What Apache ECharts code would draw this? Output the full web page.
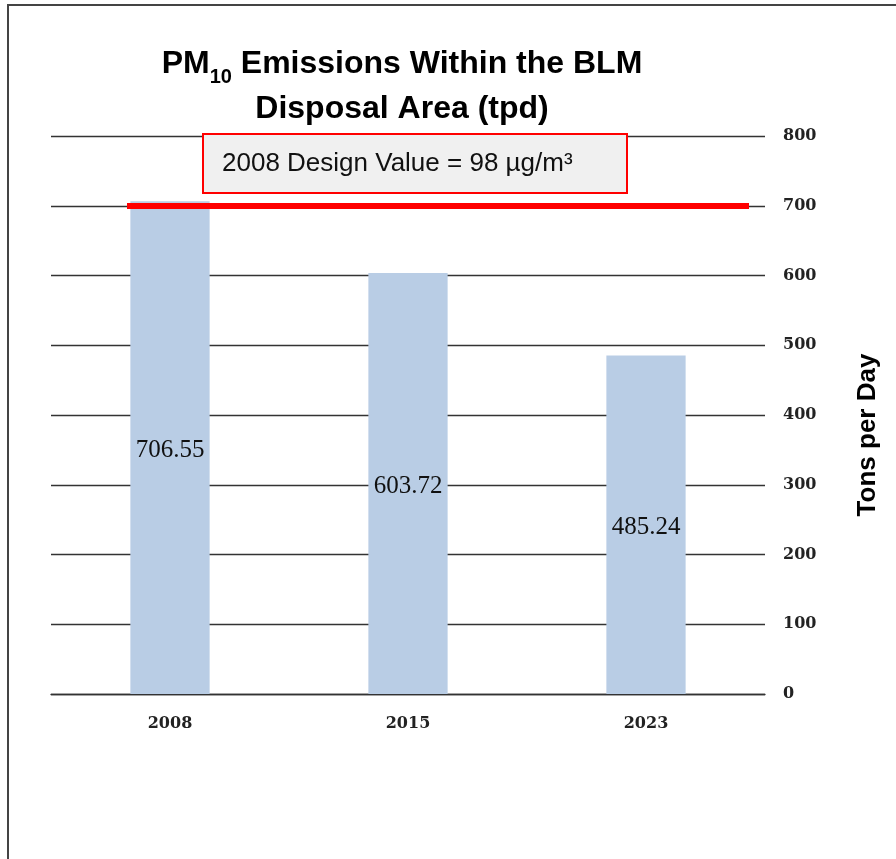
<!DOCTYPE html>
<html><head><meta charset="utf-8">
<script src="https://cdn.jsdelivr.net/npm/echarts@6/dist/echarts.min.js"></script>
<style>html,body{margin:0;padding:0;background:#fff}#c{width:896px;height:859px}</style>
</head><body><div id="c"></div>
<script>
const categories = ['2008', '2015', '2023'];
const emissions = [706.55, 603.72, 485.24];
const designLineValue = 700;
const yTicks = {min: 0, max: 800, interval: 100};
const annotationText = '2008 Design Value = 98 µg/m³';

const chart = echarts.init(document.getElementById('c'), null, {renderer: 'canvas'});
chart.setOption({
  backgroundColor: '#fff',
  animation: false,
  title: {
    text: 'PM{sub|10} Emissions Within the BLM\nDisposal Area (tpd)',
    left: 397, top: 37, textAlign: 'center',
    textStyle: {
      fontFamily: 'Liberation Sans', fontWeight: 'bold', fontSize: 32, color: '#000', lineHeight: 45,
      rich: {
        sub: {fontFamily: 'Liberation Sans', fontWeight: 'bold', fontSize: 20, color: '#000', verticalAlign: 'bottom', padding: [16, 0, 0, 0], lineHeight: 45}
      }
    }
  },
  grid: {left: 51, width: 714, top: 136, bottom: 165, containLabel: false},
  xAxis: {
    type: 'category', data: categories,
    axisLine: {show: true, lineStyle: {color: '#333', width: 1.3}},
    axisTick: {show: false},
    axisLabel: {fontFamily: 'DejaVu Serif', fontWeight: 'bold', fontSize: 16, color: '#222', margin: 22}
  },
  yAxis: {
    type: 'value', position: 'right', min: yTicks.min, max: yTicks.max, interval: yTicks.interval,
    axisLine: {show: false}, axisTick: {show: false},
    splitLine: {show: true, lineStyle: {color: '#333', width: 1.3}},
    axisLabel: {fontFamily: 'DejaVu Serif', fontWeight: 'bold', fontSize: 16, color: '#222', margin: 18, padding: [5, 0, 0, 0]},
    name: 'Tons per Day', nameLocation: 'middle', nameRotate: 90, nameGap: 90,
    nameTextStyle: {fontFamily: 'Liberation Sans', fontWeight: 'bold', fontSize: 26, color: '#000', padding: [0, 40, 0, 0]}
  },
  series: [{
    type: 'bar', data: emissions, barWidth: '33.3%',
    itemStyle: {color: '#b9cde5'},
    label: {show: true, position: 'inside', offset: [0, 3], fontFamily: 'Liberation Serif', fontSize: 25, color: '#111', formatter: p => p.value.toFixed(2)},
    markLine: {
      silent: true, symbol: 'none', label: {show: false},
      lineStyle: {color: '#ff0000', width: 6, type: 'solid'},
      data: [[{xAxis: categories[0], yAxis: designLineValue, x: 127}, {xAxis: categories[2], yAxis: designLineValue, x: 749}]]
    }
  }],
  graphic: [
    {type: 'rect', shape: {x: 8, y: 5, width: 900, height: 870}, style: {fill: 'none', stroke: '#444', lineWidth: 2}, z: 100},
    {type: 'rect', shape: {x: 203, y: 134, width: 424, height: 59}, style: {fill: '#f0f0f0', stroke: '#ff0000', lineWidth: 2}, z: 100},
    {type: 'text', x: 222, y: 164, style: {text: annotationText, fontFamily: 'Liberation Sans', fontSize: 26, fill: '#111', verticalAlign: 'middle'}, z: 101}
  ]
});
</script></body></html>
